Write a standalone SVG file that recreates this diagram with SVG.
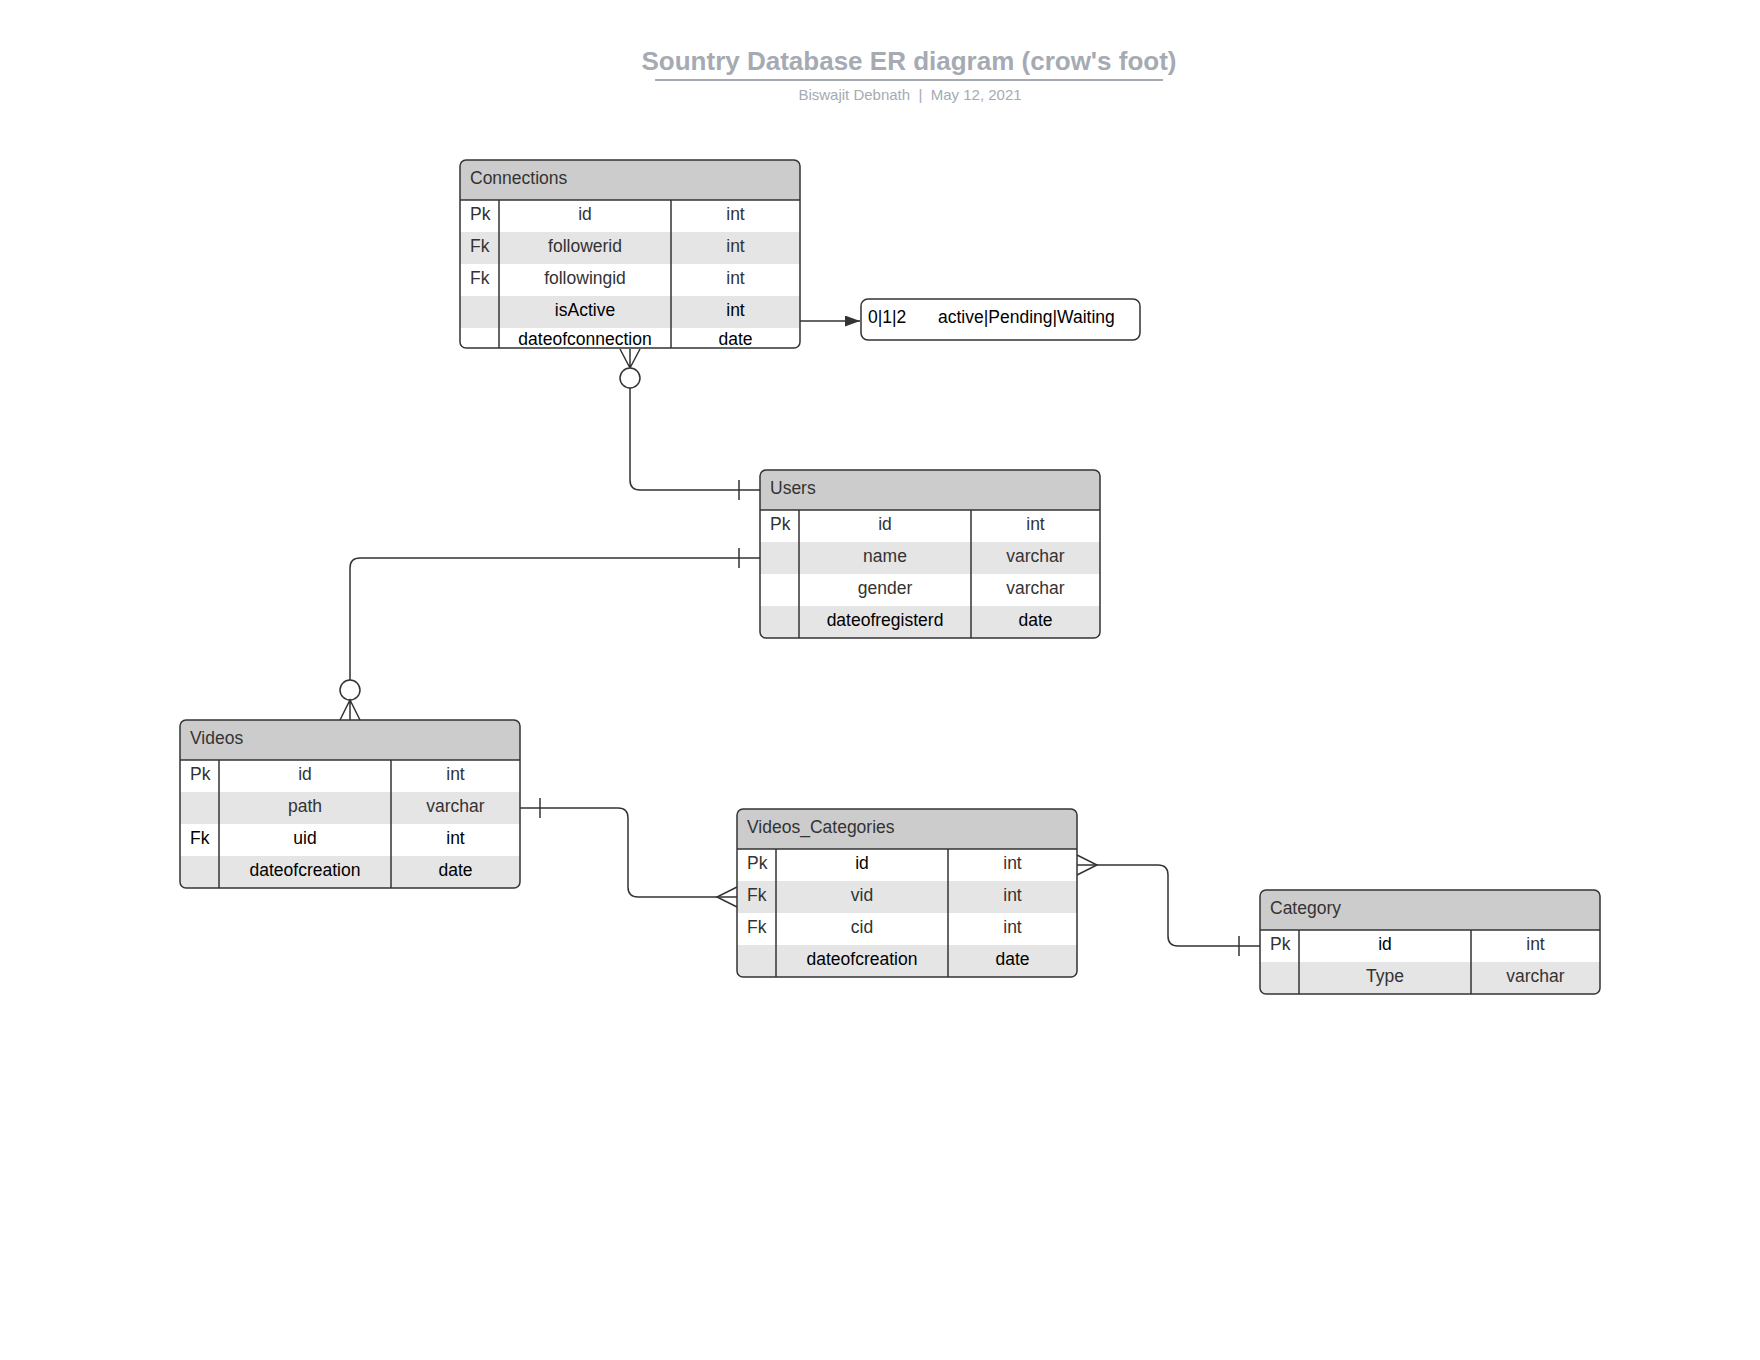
<svg xmlns="http://www.w3.org/2000/svg" width="1760" height="1360" viewBox="0 0 1760 1360">
  <style>
    text { font-family: "Liberation Sans", Arial, sans-serif; }
    .title { font-size: 26px; font-weight: bold; fill: #a5aab3; }
    .sub { font-size: 15px; fill: #a5aab3; white-space: pre; }
    .hdr { fill: #cccccc; }
    .alt { fill: #e5e5e5; }
    .body { fill: #ffffff; }
    .frame { fill: none; stroke: #333333; stroke-width: 1.5; }
    .sep { stroke: #333333; stroke-width: 1.5; }
    .t { font-size: 17.5px; fill: #333333; }
    .k { fill: #000000; }
    .c { text-anchor: middle; }
    .conn { fill: none; stroke: #333333; stroke-width: 1.5; }
    .dot { fill: #ffffff; stroke: #333333; stroke-width: 1.5; }
  </style>
  <defs>
    <clipPath id="clip-connections"><rect x="460" y="160" width="340" height="188" rx="6"/></clipPath>
    <clipPath id="clip-users"><rect x="760" y="470" width="340" height="168" rx="6"/></clipPath>
    <clipPath id="clip-videos"><rect x="180" y="720" width="340" height="168" rx="6"/></clipPath>
    <clipPath id="clip-vc"><rect x="737" y="809" width="340" height="168" rx="6"/></clipPath>
    <clipPath id="clip-category"><rect x="1260" y="890" width="340" height="104" rx="6"/></clipPath>
    <marker id="arrow" viewBox="0 0 15 11" refX="15" refY="5.5" markerWidth="15" markerHeight="11" markerUnits="userSpaceOnUse" orient="auto">
      <path d="M0,0 L15,5.5 L0,11 Z" fill="#333333"/>
    </marker>
  </defs>

  <rect x="0" y="0" width="1760" height="1360" fill="#ffffff"/>

  <!-- heading -->
  <g id="heading">
    <text class="title" x="909" y="70" text-anchor="middle">Sountry Database ER diagram (crow's foot)</text>
    <line x1="655" y1="80" x2="1163" y2="80" stroke="#a5aab3" stroke-width="2"/>
    <text class="sub" x="910" y="100" text-anchor="middle">Biswajit Debnath  |  May 12, 2021</text>
  </g>

  <!-- relationships -->
  <g id="connectors">
    <!-- Connections (many, optional) to Users (one) -->
    <path class="conn" d="M630,388 V480 Q630,490 640,490 H760"/>
    <path class="conn" d="M620,349 L630,368 L640,349 M630,349 V368"/>
    <circle class="dot" cx="630" cy="378" r="10"/>
    <path class="conn" d="M739,480 V500"/>

    <!-- Users (one) to Videos (many, optional) -->
    <path class="conn" d="M760,558 H360 Q350,558 350,568 V680"/>
    <path class="conn" d="M739,548 V568"/>
    <circle class="dot" cx="350" cy="690" r="10"/>
    <path class="conn" d="M340,720 L350,700 L360,720 M350,700 V720"/>

    <!-- Videos (one) to Videos_Categories (many) -->
    <path class="conn" d="M520,808 H618 Q628,808 628,818 V887 Q628,897 638,897 H737"/>
    <path class="conn" d="M540,798 V818"/>
    <path class="conn" d="M737,887 L717,897 L737,907"/>

    <!-- Videos_Categories (many) to Category (one) -->
    <path class="conn" d="M1077,865 H1158 Q1168,865 1168,875 V936 Q1168,946 1178,946 H1260"/>
    <path class="conn" d="M1077,855 L1097,865 L1077,875"/>
    <path class="conn" d="M1239,936 V956"/>

    <!-- isActive value note -->
    <path class="conn" d="M800,321 H860" marker-end="url(#arrow)"/>
  </g>

  <!-- status note -->
  <g id="status-note">
    <rect x="861" y="299" width="279" height="41" rx="7" fill="#ffffff" stroke="#333333" stroke-width="1.5"/>
    <text class="t k" x="868" y="323">0|1|2</text>
    <text class="t k" x="938" y="323">active|Pending|Waiting</text>
  </g>

  <!-- Connections -->
  <g id="connections">
    <g clip-path="url(#clip-connections)">
      <rect class="body" x="460" y="160" width="340" height="188"/>
      <rect class="hdr" x="460" y="160" width="340" height="40"/>
      <rect class="alt" x="460" y="232" width="340" height="32"/>
      <rect class="alt" x="460" y="296" width="340" height="32"/>
    </g>
    <line class="sep" x1="460" y1="200" x2="800" y2="200"/>
    <line class="sep" x1="499" y1="200" x2="499" y2="348"/>
    <line class="sep" x1="671" y1="200" x2="671" y2="348"/>
    <rect class="frame" x="460" y="160" width="340" height="188" rx="6"/>
    <text class="t" x="470" y="184">Connections</text>
    <text class="t" x="470" y="220">Pk</text>
    <text class="t c" x="585" y="220">id</text>
    <text class="t c" x="735.5" y="220">int</text>
    <text class="t" x="470" y="252">Fk</text>
    <text class="t c" x="585" y="252">followerid</text>
    <text class="t c" x="735.5" y="252">int</text>
    <text class="t" x="470" y="284">Fk</text>
    <text class="t c" x="585" y="284">followingid</text>
    <text class="t c" x="735.5" y="284">int</text>
    <text class="t k c" x="585" y="316">isActive</text>
    <text class="t k c" x="735.5" y="316">int</text>
    <text class="t k c" x="585" y="345">dateofconnection</text>
    <text class="t k c" x="735.5" y="345">date</text>
  </g>

  <!-- Users -->
  <g id="users">
    <g clip-path="url(#clip-users)">
      <rect class="body" x="760" y="470" width="340" height="168"/>
      <rect class="hdr" x="760" y="470" width="340" height="40"/>
      <rect class="alt" x="760" y="542" width="340" height="32"/>
      <rect class="alt" x="760" y="606" width="340" height="32"/>
    </g>
    <line class="sep" x1="760" y1="510" x2="1100" y2="510"/>
    <line class="sep" x1="799" y1="510" x2="799" y2="638"/>
    <line class="sep" x1="971" y1="510" x2="971" y2="638"/>
    <rect class="frame" x="760" y="470" width="340" height="168" rx="6"/>
    <text class="t" x="770" y="494">Users</text>
    <text class="t" x="770" y="530">Pk</text>
    <text class="t c" x="885" y="530">id</text>
    <text class="t c" x="1035.5" y="530">int</text>
    <text class="t c" x="885" y="562">name</text>
    <text class="t c" x="1035.5" y="562">varchar</text>
    <text class="t c" x="885" y="594">gender</text>
    <text class="t c" x="1035.5" y="594">varchar</text>
    <text class="t k c" x="885" y="626">dateofregisterd</text>
    <text class="t k c" x="1035.5" y="626">date</text>
  </g>

  <!-- Videos -->
  <g id="videos">
    <g clip-path="url(#clip-videos)">
      <rect class="body" x="180" y="720" width="340" height="168"/>
      <rect class="hdr" x="180" y="720" width="340" height="40"/>
      <rect class="alt" x="180" y="792" width="340" height="32"/>
      <rect class="alt" x="180" y="856" width="340" height="32"/>
    </g>
    <line class="sep" x1="180" y1="760" x2="520" y2="760"/>
    <line class="sep" x1="219" y1="760" x2="219" y2="888"/>
    <line class="sep" x1="391" y1="760" x2="391" y2="888"/>
    <rect class="frame" x="180" y="720" width="340" height="168" rx="6"/>
    <text class="t" x="190" y="744">Videos</text>
    <text class="t" x="190" y="780">Pk</text>
    <text class="t c" x="305" y="780">id</text>
    <text class="t c" x="455.5" y="780">int</text>
    <text class="t c" x="305" y="812">path</text>
    <text class="t c" x="455.5" y="812">varchar</text>
    <text class="t k" x="190" y="844">Fk</text>
    <text class="t k c" x="305" y="844">uid</text>
    <text class="t k c" x="455.5" y="844">int</text>
    <text class="t k c" x="305" y="876">dateofcreation</text>
    <text class="t k c" x="455.5" y="876">date</text>
  </g>

  <!-- Videos_Categories -->
  <g id="videos-categories">
    <g clip-path="url(#clip-vc)">
      <rect class="body" x="737" y="809" width="340" height="168"/>
      <rect class="hdr" x="737" y="809" width="340" height="40"/>
      <rect class="alt" x="737" y="881" width="340" height="32"/>
      <rect class="alt" x="737" y="945" width="340" height="32"/>
    </g>
    <line class="sep" x1="737" y1="849" x2="1077" y2="849"/>
    <line class="sep" x1="776" y1="849" x2="776" y2="977"/>
    <line class="sep" x1="948" y1="849" x2="948" y2="977"/>
    <rect class="frame" x="737" y="809" width="340" height="168" rx="6"/>
    <text class="t" x="747" y="833">Videos_Categories</text>
    <text class="t" x="747" y="869">Pk</text>
    <text class="t k c" x="862" y="869">id</text>
    <text class="t c" x="1012.5" y="869">int</text>
    <text class="t" x="747" y="901">Fk</text>
    <text class="t c" x="862" y="901">vid</text>
    <text class="t c" x="1012.5" y="901">int</text>
    <text class="t" x="747" y="933">Fk</text>
    <text class="t c" x="862" y="933">cid</text>
    <text class="t c" x="1012.5" y="933">int</text>
    <text class="t k c" x="862" y="965">dateofcreation</text>
    <text class="t k c" x="1012.5" y="965">date</text>
  </g>

  <!-- Category -->
  <g id="category">
    <g clip-path="url(#clip-category)">
      <rect class="body" x="1260" y="890" width="340" height="104"/>
      <rect class="hdr" x="1260" y="890" width="340" height="40"/>
      <rect class="alt" x="1260" y="962" width="340" height="32"/>
    </g>
    <line class="sep" x1="1260" y1="930" x2="1600" y2="930"/>
    <line class="sep" x1="1299" y1="930" x2="1299" y2="994"/>
    <line class="sep" x1="1471" y1="930" x2="1471" y2="994"/>
    <rect class="frame" x="1260" y="890" width="340" height="104" rx="6"/>
    <text class="t" x="1270" y="914">Category</text>
    <text class="t" x="1270" y="950">Pk</text>
    <text class="t k c" x="1385" y="950">id</text>
    <text class="t c" x="1535.5" y="950">int</text>
    <text class="t c" x="1385" y="982">Type</text>
    <text class="t c" x="1535.5" y="982">varchar</text>
  </g>
</svg>
